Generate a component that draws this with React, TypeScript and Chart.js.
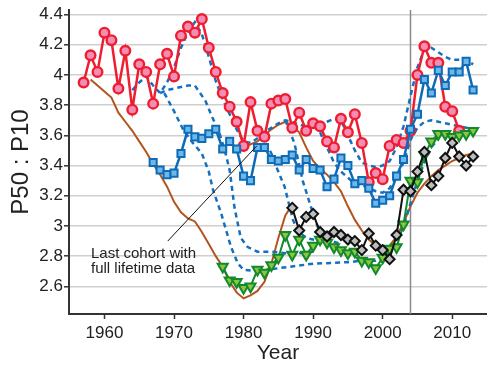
import React, { useEffect, useRef } from "react";
import { Chart, registerables } from "chart.js";
Chart.register(...registerables);

// ---------- data ----------
const redYears = [1957,1958,1959,1960,1961,1962,1963,1964,1965,1966,1967,1968,1969,1970,1971,1972,1973,1974,1975,1976,1977,1978,1979,1980,1981,1982,1983,1984,1985,1986,1987,1988,1989,1990,1991,1992,1993,1994,1995,1996,1997,1998,1999,2000,2001,2002,2003,2004,2005,2006,2007,2008,2009,2010,2011];
const redValues = [3.95,4.13,4.02,4.28,4.23,3.91,4.16,3.77,4.07,4.02,3.81,4.07,4.14,3.99,4.26,4.32,4.28,4.37,4.18,4.02,3.88,3.79,3.69,3.53,3.82,3.63,3.59,3.81,3.83,3.84,3.65,3.75,3.63,3.68,3.66,3.56,3.52,3.71,3.62,3.74,3.55,3.29,3.35,3.31,3.53,3.57,3.55,3.63,4.00,4.19,4.08,4.08,3.79,3.76,3.63];

const blueYears = [1967,1968,1969,1970,1971,1972,1973,1974,1975,1976,1977,1978,1979,1980,1981,1982,1983,1984,1985,1986,1987,1988,1989,1990,1991,1992,1993,1994,1995,1996,1997,1998,1999,2000,2001,2002,2003,2004,2005,2006,2007,2008,2009,2010,2011,2012,2013];
const blueValues = [3.42,3.37,3.34,3.35,3.48,3.64,3.59,3.58,3.61,3.64,3.51,3.56,3.51,3.33,3.30,3.52,3.52,3.44,3.43,3.44,3.47,3.37,3.44,3.38,3.37,3.26,3.31,3.45,3.40,3.28,3.30,3.25,3.15,3.17,3.20,3.33,3.44,3.64,3.74,3.97,3.88,4.03,3.93,4.02,4.02,4.09,3.90];

const greenYears = [1977,1978,1979,1980,1981,1982,1983,1984,1985,1986,1987,1988,1989,1990,1991,1992,1993,1994,1995,1996,1997,1998,1999,2000,2001,2002,2003,2004,2005,2006,2007,2008,2009,2010,2011,2012,2013];
const greenValues = [2.73,2.64,2.63,2.59,2.60,2.71,2.69,2.74,2.79,2.94,2.81,2.91,2.81,2.87,2.91,2.89,2.86,2.84,2.82,2.83,2.77,2.76,2.72,2.79,2.85,2.86,3.01,3.30,3.29,3.47,3.56,3.61,3.61,3.59,3.60,3.61,3.63];

const blackYears = [1987,1988,1989,1990,1991,1992,1993,1994,1995,1996,1997,1998,1999,2000,2001,2002,2003,2004,2005,2006,2007,2008,2009,2010,2011,2012,2013];
const blackValues = [3.12,2.97,3.06,3.08,2.96,2.93,2.96,2.94,2.91,2.90,2.84,2.95,2.87,2.84,2.78,2.94,3.24,3.23,3.36,3.49,3.27,3.33,3.45,3.55,3.46,3.40,3.46];

const brownAYears = [1958,1959,1960,1961,1962,1963,1964,1965,1966,1967,1968,1969,1970,1971,1972,1973,1974,1975,1976,1977,1978,1979,1980,1981,1982,1983,1984,1985,1986,1987];
const brownAValues = [3.97,3.93,3.89,3.85,3.75,3.69,3.63,3.56,3.49,3.41,3.34,3.26,3.16,3.09,3.05,3.03,2.96,2.88,2.80,2.73,2.63,2.56,2.52,2.54,2.57,2.63,2.75,2.92,3.07,3.14];

const brownBYears = [1980,1981,1982,1983,1984,1985,1986,1987,1988,1989,1990,1991,1992,1993,1994,1995,1996,1997,1998,1999,2000,2001,2002,2003,2004,2005,2006,2007,2008,2009,2010,2011,2012,2013];
const brownBValues = [3.52,3.54,3.56,3.60,3.64,3.67,3.69,3.66,3.62,3.52,3.43,3.38,3.34,3.29,3.23,3.13,3.04,2.97,2.91,2.87,2.85,2.87,2.93,3.02,3.13,3.22,3.28,3.33,3.37,3.40,3.43,3.45,3.47,3.48];

const dashAYears = [1964,1965,1966,1967,1968,1969,1970,1971,1972,1973,1974,1975,1976,1977,1978,1979,1980,1981,1982,1983,1984,1985,1986,1987,1988,1989,1990,1991,1992,1993,1994,1995,1996,1997,1998,1999,2000,2001,2002,2003,2004,2005,2006,2007,2008,2009,2010,2011,2012,2013];
const dashAValues = [3.90,3.95,3.99,3.93,3.88,3.95,4.05,4.18,4.28,4.35,4.27,4.12,3.96,3.84,3.74,3.64,3.56,3.55,3.58,3.62,3.65,3.68,3.70,3.69,3.67,3.66,3.66,3.67,3.69,3.71,3.70,3.60,3.50,3.42,3.40,3.39,3.40,3.43,3.52,3.66,3.86,4.05,4.17,4.18,4.15,4.12,4.10,4.10,4.10,4.07];

const dashBYears = [1968,1969,1970,1971,1972,1973,1974.5,1975.5,1976.5,1977.3,1978,1978.7,1979.6,1980.6,1982,1984,1986,1988,1990];
const dashBValues = [3.88,3.90,3.91,3.92,3.93,3.93,3.83,3.72,3.62,3.50,3.37,3.12,2.92,2.86,2.83,2.83,2.82,2.82,2.83];

const dashCYears = [1968.6,1970,1971.3,1972.7,1974,1975,1975.6,1976.8,1978.2,1979.2,1980,1982,1985,1990,1995,1997,1999,2000,2001,2002,2003,2004,2005,2006,2007,2008];
const dashCValues = [3.88,3.76,3.64,3.55,3.48,3.36,3.24,3.08,2.86,2.75,2.71,2.70,2.72,2.75,2.76,2.77,2.77,2.79,2.82,2.90,3.00,3.15,3.30,3.42,3.52,3.58];

const dashEYears = [1982.5,1984,1984.9,1985.9,1987.1,1987.8,1989,1991];
const dashEValues = [3.60,3.48,3.37,3.26,3.04,2.97,2.92,2.90];

const dashGYears = [1986,1987.3,1988.5,1990,1991,1992,1994];
const dashGValues = [3.70,3.55,3.30,3.08,2.95,2.91,2.88];

const dashFYears = [1991,1992,1993,1994,1995,1996,1997,1998,1999,2000,2001,2002,2003,2004,2005,2006,2007,2008,2009,2010,2011,2012,2013];
const dashFValues = [3.62,3.52,3.42,3.36,3.32,3.28,3.27,3.25,3.23,3.22,3.25,3.32,3.42,3.57,3.65,3.69,3.70,3.69,3.68,3.67,3.66,3.65,3.64];

const xTicks = [1960,1970,1980,1990,2000,2010];
const yTicks = [2.6,2.8,3.0,3.2,3.4,3.6,3.8,4.0,4.2,4.4];
const markerYear = 2004;
const noteLines = ["Last cohort with", "full lifetime data"];
const noteFrom = { x: 1969.1, y: 2.9 };
const noteTo = { x: 1981.9, y: 3.53 };

const FONT = "'Liberation Sans', Arial, Helvetica, sans-serif";
const pts = (xs: number[], ys: number[]) => xs.map((x, i) => ({ x, y: ys[i] }));

const DASH_BLUE = "#1670bf";

export default function App() {
  const ref = useRef<HTMLCanvasElement | null>(null);
  useEffect(() => {
    document.body.style.margin = "0";
    document.body.style.overflow = "hidden";
    const canvas = ref.current!;
    const dashed = (xs: number[], ys: number[]) => ({
      data: pts(xs, ys),
      borderColor: DASH_BLUE,
      borderWidth: 2.5,
      borderDash: [5, 4],
      pointRadius: 0,
      fill: false,
    });
    const notePlugin = {
      id: "notes",
      beforeDatasetsDraw(chart: any) {
        const { ctx, chartArea, scales } = chart;
        const x = scales.x.getPixelForValue(markerYear);
        ctx.save();
        ctx.strokeStyle = "#8a8a8a";
        ctx.lineWidth = 1.5;
        ctx.beginPath();
        ctx.moveTo(x, chartArea.top);
        ctx.lineTo(x, chartArea.bottom);
        ctx.stroke();
        ctx.restore();
      },
      afterDatasetsDraw(chart: any) {
        const { ctx, scales } = chart;
        ctx.save();
        ctx.strokeStyle = "#111";
        ctx.lineWidth = 1;
        ctx.beginPath();
        ctx.moveTo(scales.x.getPixelForValue(noteFrom.x), scales.y.getPixelForValue(noteFrom.y));
        ctx.lineTo(scales.x.getPixelForValue(noteTo.x), scales.y.getPixelForValue(noteTo.y));
        ctx.stroke();
        ctx.fillStyle = "#222";
        ctx.font = `15px ${FONT}`;
        ctx.textBaseline = "alphabetic";
        ctx.textAlign = "left";
        ctx.fillText(noteLines[0], 91, 257.5);
        ctx.fillText(noteLines[1], 91, 272.5);
        ctx.restore();
      },
    };
    const chart = new Chart(canvas, {
      type: "line",
      data: {
        datasets: [
          {
            data: pts(blackYears, blackValues),
            borderColor: "#111111",
            borderWidth: 2,
            pointStyle: "rectRot",
            pointRadius: 5,
            pointBorderWidth: 2,
            pointBackgroundColor: "#bdbdbd",
            pointBorderColor: "#111111",
          },
          {
            data: pts(greenYears, greenValues),
            borderColor: "#12892c",
            borderWidth: 2,
            pointStyle: "triangle",
            rotation: 180,
            pointRadius: 5.8,
            pointBorderWidth: 2,
            pointBackgroundColor: "#8cc63e",
            pointBorderColor: "#12892c",
          },
          {
            data: pts(blueYears, blueValues),
            borderColor: "#0e6bb8",
            borderWidth: 2.5,
            pointStyle: "rect",
            pointRadius: 5,
            pointBorderWidth: 2,
            pointBackgroundColor: "#6cb8e8",
            pointBorderColor: "#0e6bb8",
          },
          {
            data: pts(redYears, redValues),
            borderColor: "#ee1d2f",
            borderWidth: 2.5,
            pointStyle: "circle",
            pointRadius: 4.8,
            pointBorderWidth: 2.4,
            pointBackgroundColor: "#f38db3",
            pointBorderColor: "#ee1d2f",
          },
          dashed(dashAYears, dashAValues),
          dashed(dashBYears, dashBValues),
          dashed(dashCYears, dashCValues),
          dashed(dashEYears, dashEValues),
          dashed(dashGYears, dashGValues),
          dashed(dashFYears, dashFValues),
          {
            data: pts(brownAYears, brownAValues),
            borderColor: "#b3541e",
            borderWidth: 2,
            pointRadius: 0,
          },
          {
            data: pts(brownBYears, brownBValues),
            borderColor: "#b3541e",
            borderWidth: 2,
            pointRadius: 0,
          },
        ],
      },
      options: {
        animation: false,
        responsive: false,
        devicePixelRatio: 1,
        layout: { autoPadding: false, padding: { top: 10, right: 0, left: 0, bottom: 0 } },
        plugins: { legend: { display: false }, tooltip: { enabled: false } },
        elements: { line: { tension: 0 } },
        scales: {
          x: {
            type: "linear",
            min: 1954.9,
            max: 2015,
            afterBuildTicks: (s: any) => { s.ticks = xTicks.map((v) => ({ value: v })); },
            afterFit: (s: any) => { s.height = 52; s.paddingLeft = 0; s.paddingRight = 0; },
            ticks: {
              font: { family: FONT, size: 17 },
              color: "#222",
              padding: 4,
              maxRotation: 0,
              callback: (v: any) => String(v),
            },
            grid: { drawOnChartArea: false, drawTicks: true, tickLength: 5, tickColor: "#333", tickWidth: 1.5 },
            border: { color: "#333", width: 2 },
            title: { display: true, text: "Year", font: { family: FONT, size: 21 }, color: "#222", padding: { top: 0, bottom: 0 } },
          },
          y: {
            type: "linear",
            min: 2.417,
            max: 4.43,
            afterBuildTicks: (s: any) => { s.ticks = yTicks.map((v) => ({ value: v })); },
            afterFit: (s: any) => { s.width = 69; s.paddingTop = 0; s.paddingBottom = 0; },
            ticks: {
              font: { family: FONT, size: 17 },
              color: "#222",
              padding: 1,
              callback: (v: any) => String(parseFloat(Number(v).toFixed(1))),
            },
            grid: { color: "#cfcfcf", lineWidth: 1.6, drawTicks: true, tickLength: 5, tickColor: "#333", tickWidth: 1.5 },
            border: { color: "#333", width: 2 },
            title: { display: true, text: "P50 : P10", font: { family: FONT, size: 24 }, color: "#222", padding: { top: 7, bottom: 0 } },
          },
        },
      },
      plugins: [notePlugin],
    } as any);
    return () => chart.destroy();
  }, []);
  return (
    <div style={{ width: 487, height: 366, overflow: "hidden" }}>
      <canvas ref={ref} width={487} height={366} style={{ display: "block" }} />
    </div>
  );
}
